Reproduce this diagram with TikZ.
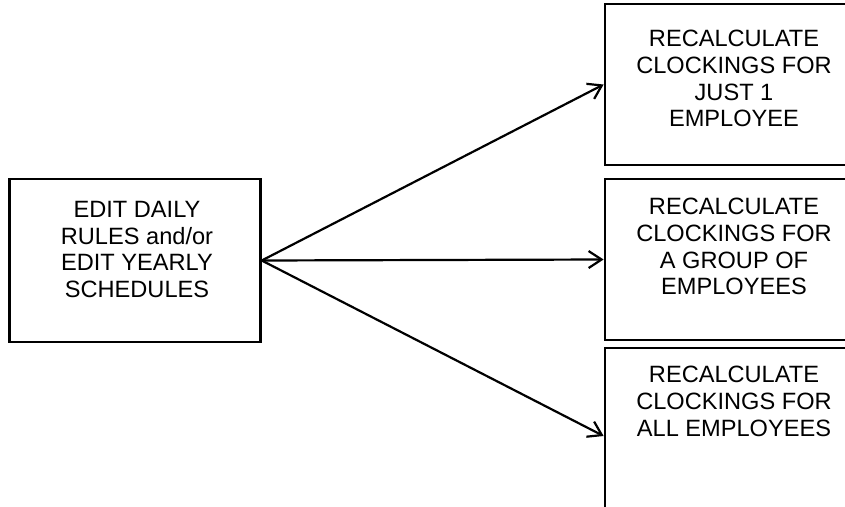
\documentclass[tikz,border=0pt]{standalone}
\usepackage{fontspec}
\setmainfont{Liberation Sans}
\usetikzlibrary{arrows.meta}
\begin{document}
\begin{tikzpicture}[x=1pt,y=-1pt,
  box/.style={draw, line width=2.8pt, rectangle, inner sep=0pt},
  lbl/.style={anchor=north, inner sep=0pt, align=center, font=\fontsize{23.6}{26.7}\selectfont},
  conn/.style={line width=2.2pt, -{Straight Barb[length=13pt,width=17pt,line width=2.2pt]}}]
\useasboundingbox (0,0) rectangle (845,506);
\clip (0,0) rectangle (845,506);
\node[box, minimum width=250.7pt, minimum height=163pt] (L) at (135,260.5) {};
\node[box, minimum width=258pt, minimum height=161pt] (T) at (734,84.5) {};
\node[box, minimum width=258pt, minimum height=161pt] (M) at (734,259.5) {};
\node[box, minimum width=258pt, minimum height=176pt] (B) at (734,436) {};
\node[lbl] (tL) at (137,201) {EDIT DAILY\\RULES and/or\\EDIT YEARLY\\SCHEDULES};
\node[lbl] (tT) at (734,30) {RECALCULATE\\CLOCKINGS FOR\\JUST 1\\EMPLOYEE};
\node[lbl] (tM) at (734,198) {RECALCULATE\\CLOCKINGS FOR\\A GROUP OF\\EMPLOYEES};
\node[lbl] (tB) at (734,366) {RECALCULATE\\CLOCKINGS FOR\\ALL EMPLOYEES};
\draw[conn] (L.east) -- (T.west);
\draw[conn] (L.east) -- (M.west);
\draw[conn] (L.east) -- (B.west);
\end{tikzpicture}
\end{document}
